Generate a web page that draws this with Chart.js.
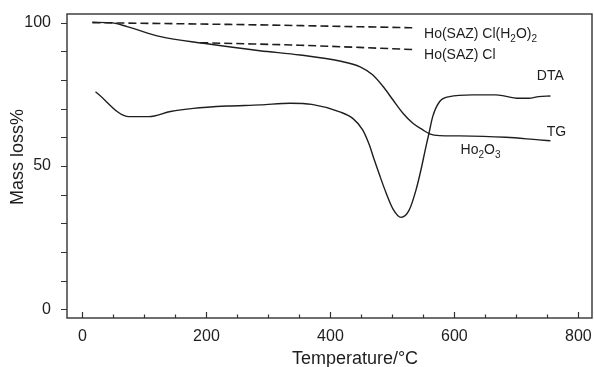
<!DOCTYPE html>
<html>
<head>
<meta charset="utf-8">
<script src="https://cdn.jsdelivr.net/npm/chart.js@4.4.0/dist/chart.umd.min.js"></script>
<style>
    html, body { margin: 0; padding: 0; background: #ffffff; }
    #wrap { width: 594px; height: 367px; }
</style>
</head>
<body>
<div id="wrap"><canvas id="chart" width="594" height="367"></canvas></div>
<script>
// TG curve: mass loss (%) against temperature (°C)
const tgTemp = [16, 45, 72, 126, 195, 286, 351, 415, 448, 468, 485, 501, 517, 533, 549, 560, 576, 608, 683, 736, 755];
const tgMass = [100.1, 100, 98.6, 95.1, 92.8, 90.2, 88.7, 86.6, 84.6, 81.8, 77.7, 73, 68.4, 64.9, 62.6, 61.2, 60.6, 60.5, 60.0, 59.1, 58.8];

// DTA curve (plotted on the same axis)
const dtaTemp = [21, 75, 107, 142, 179, 233, 287, 335, 370, 415, 436, 452, 463, 470, 479, 490, 501, 514, 527, 538, 546, 554, 559, 565, 576, 592, 629, 667, 704, 720, 736, 755];
const dtaValue = [75.9, 67.2, 67.2, 69, 70.1, 70.9, 71.3, 71.9, 71.5, 68.9, 66.6, 62.6, 57.2, 52.6, 47, 40.5, 35, 32.1, 34.6, 41.6, 48.6, 56.7, 61.4, 67.2, 72.4, 74.2, 74.8, 74.8, 73.6, 73.6, 74.2, 74.4];

// calculated plateaus (dashed)
const hydrateTemp = [16, 286, 532];
const hydrateMass = [100, 99.2, 98.2];
const anhydTemp = [190, 351, 535];
const anhydMass = [93, 92.1, 90.6];

// axes
const xMajorTicks = [0, 200, 400, 600, 800];
const xMinorTicks = [50, 100, 150, 250, 300, 350, 450, 500, 550, 650, 700, 750];
const yMajorTicks = [0, 50, 100];
const yMinorTicks = [10, 20, 30, 40, 60, 70, 80, 90];

const FONT = "'Liberation Sans', Arial, sans-serif";
const INK = '#1e1e1e';

const toPoints = (xs, ys) => xs.map((x, i) => ({ x: x, y: ys[i] }));

// text labels placed in data coordinates, parts flagged 1 are subscripts
const curveLabels = [
    { x: 551, y: 94.5, parts: [['Ho(SAZ) Cl(H'], ['2', 1], ['O)'], ['2', 1]] },
    { x: 551, y: 87.2, parts: [['Ho(SAZ) Cl']] },
    { x: 733, y: 80.0, parts: [['DTA']] },
    { x: 749, y: 60.5, parts: [['TG']] },
    { x: 610, y: 54.1, parts: [['Ho'], ['2', 1], ['O'], ['3', 1]] }
];

function drawParts(ctx, x, y, parts) {
    let cx = x;
    parts.forEach(p => {
        const sub = p[1] === 1;
        ctx.font = (sub ? '10px ' : '14px ') + FONT;
        ctx.fillText(p[0], cx, sub ? y + 4 : y);
        cx += ctx.measureText(p[0]).width;
    });
}

const framePlugin = {
    id: 'frame',
    afterDraw(chart) {
        const { ctx, chartArea: a, scales } = chart;
        const xs = scales.x, ys = scales.y;
        ctx.save();
        ctx.strokeStyle = '#333';
        ctx.lineWidth = 1.4;
        ctx.strokeRect(a.left, a.top, a.right - a.left, a.bottom - a.top);

        // x ticks point inward
        ctx.lineWidth = 1.2;
        ctx.beginPath();
        xMajorTicks.forEach(v => {
            const px = Math.round(xs.getPixelForValue(v)) + 0.5;
            ctx.moveTo(px, a.bottom);
            ctx.lineTo(px, a.bottom - 6);
        });
        xMinorTicks.forEach(v => {
            const px = Math.round(xs.getPixelForValue(v)) + 0.5;
            ctx.moveTo(px, a.bottom);
            ctx.lineTo(px, a.bottom - 3.5);
        });
        // y ticks point outward
        yMajorTicks.concat(yMinorTicks).forEach(v => {
            const py = Math.round(ys.getPixelForValue(v)) + 0.5;
            ctx.moveTo(a.left, py);
            ctx.lineTo(a.left - 6, py);
        });
        ctx.stroke();

        // curve labels
        ctx.fillStyle = INK;
        ctx.textBaseline = 'alphabetic';
        ctx.textAlign = 'left';
        curveLabels.forEach(l => {
            drawParts(ctx, xs.getPixelForValue(l.x), ys.getPixelForValue(l.y), l.parts);
        });

        // axis titles
        ctx.font = '18px ' + FONT;
        ctx.textAlign = 'center';
        ctx.fillText('Temperature/°C', 355, 364);
        ctx.translate(23, 157);
        ctx.rotate(-Math.PI / 2);
        ctx.fillText('Mass loss%', 0, 0);
        ctx.restore();
    }
};

const lineStyle = (dash, width) => ({
    borderColor: INK,
    borderWidth: width,
    borderDash: dash,
    pointRadius: 0,
    fill: false,
    showLine: true,
    cubicInterpolationMode: 'monotone'
});

new Chart(document.getElementById('chart'), {
    type: 'scatter',
    data: {
        datasets: [
            { label: 'TG', data: toPoints(tgTemp, tgMass), ...lineStyle([], 1.4) },
            { label: 'DTA', data: toPoints(dtaTemp, dtaValue), ...lineStyle([], 1.4) },
            { label: 'Ho(SAZ) Cl(H2O)2', data: toPoints(hydrateTemp, hydrateMass), ...lineStyle([8, 4], 1.6) },
            { label: 'Ho(SAZ) Cl', data: toPoints(anhydTemp, anhydMass), ...lineStyle([8, 4], 1.6) }
        ]
    },
    options: {
        responsive: false,
        animation: false,
        devicePixelRatio: 1,
        layout: { padding: { top: 14, right: 2, left: 0, bottom: 0 } },
        plugins: {
            legend: { display: false },
            tooltip: { enabled: false }
        },
        scales: {
            x: {
                type: 'linear',
                min: -25,
                max: 822,
                grid: { display: false, drawTicks: false },
                border: { display: false },
                ticks: {
                    autoSkip: false,
                    padding: 9,
                    color: INK,
                    font: { family: FONT, size: 16 }
                },
                afterBuildTicks: s => { s.ticks = xMajorTicks.map(v => ({ value: v })); },
                afterFit: s => {
                    s.height = 49;
                    s.paddingLeft = 0;
                    s.paddingRight = 0;
                }
            },
            y: {
                type: 'linear',
                min: -3,
                max: 103,
                grid: { display: false, drawTicks: false },
                border: { display: false },
                ticks: {
                    autoSkip: false,
                    padding: 16,
                    color: INK,
                    font: { family: FONT, size: 16 }
                },
                afterBuildTicks: s => { s.ticks = yMajorTicks.map(v => ({ value: v })); },
                afterFit: s => {
                    s.width = 67;
                    s.paddingTop = 0;
                    s.paddingBottom = 0;
                }
            }
        }
    },
    plugins: [framePlugin]
});
</script>
</body>
</html>
